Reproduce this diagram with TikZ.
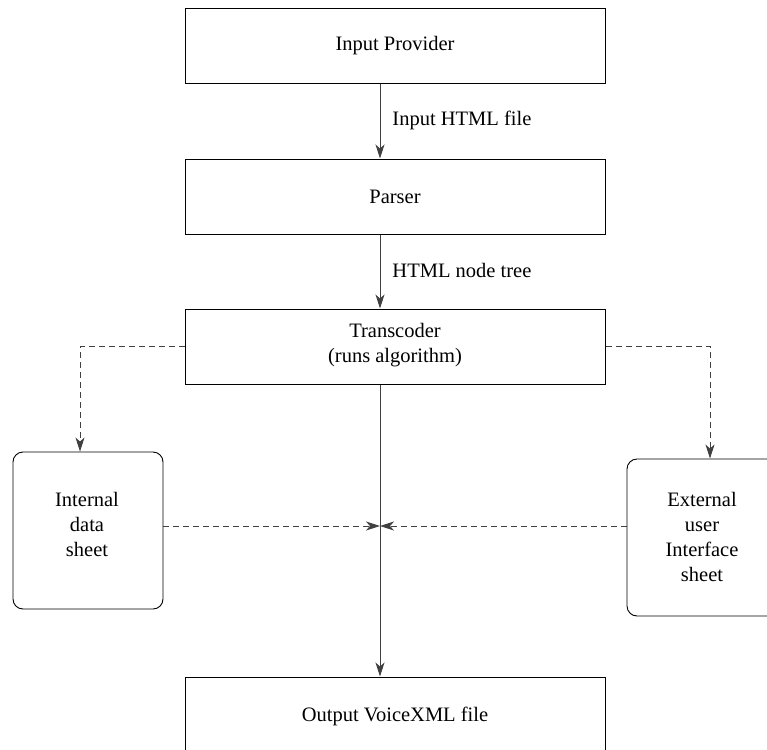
\documentclass[tikz,border=0pt]{standalone}
\usepackage{fontspec}
\setmainfont{Liberation Serif}
\usetikzlibrary{arrows.meta}
\begin{document}
\begin{tikzpicture}[x=1pt,y=-1pt,
  every node/.style={font=\fontsize{20.5}{25}\selectfont},
  stage/.style={draw=black,line width=1pt,minimum width=420pt,minimum height=75pt,inner sep=0pt},
  sheet/.style={draw=black,line width=0.9pt,rounded corners=10pt,minimum width=150pt,inner sep=0pt},
  caption/.style={align=center,inner sep=0pt},
  flow/.style={draw=black!75,line width=0.9pt,-{Stealth[length=14pt,width=9pt,inset=4pt]}},
  aux/.style={flow,dash pattern=on 6pt off 4pt}]
  \useasboundingbox (0,0) rectangle (767,749);
  \clip (0,0) rectangle (767,749);

  % main pipeline boxes
  \node[stage] (ip) at (395,46.5) {};
  \node[stage] (pa) at (395,196.5) {};
  \node[stage] (tc) at (395,346.5) {};
  \node[stage] (out) at (395,714.5) {};

  % side sheets
  \node[sheet,minimum height=157pt] (int) at (88,530.5) {};
  \node[sheet,minimum height=157pt] (ext) at (702,537.5) {};

  % texts
  \node[caption] (tip) at (395,46) {Input Provider};
  \node[caption] (tpa) at (395,197) {Parser};
  \node[caption] (ttc) at (395,345) {Transcoder\\(runs algorithm)};
  \node[caption] (tout) at (395,716) {Output VoiceXML file};
  \node[caption] (tint) at (87,524) {Internal\\data\\sheet};
  \node[caption] (text) at (702,537) {External\\user\\Interface\\sheet};

  % main axis and junction point
  \coordinate (ax) at (380,0);
  \coordinate (jn) at (380,526);

  \draw[flow] (ip.south -| ax) -- (pa.north -| ax)
    node[pos=0.5,anchor=west,inner sep=0pt,xshift=12pt,yshift=1pt] (l1) {Input HTML file};
  \draw[flow] (pa.south -| ax) -- (tc.north -| ax)
    node[pos=0.5,anchor=west,inner sep=0pt,xshift=12pt,yshift=1pt] (l2) {HTML node tree};
  \draw[flow] (tc.south -| ax) -- (out.north -| ax);

  % dashed side connections
  \draw[aux] (tc.west) -| ([xshift=-8pt]int.north);
  \draw[aux] (tc.east) -| ([xshift=8pt]ext.north);
  \draw[aux] (int.east |- jn) -- (jn);
  \draw[aux] (ext.west |- jn) -- (jn);
\end{tikzpicture}
\end{document}
